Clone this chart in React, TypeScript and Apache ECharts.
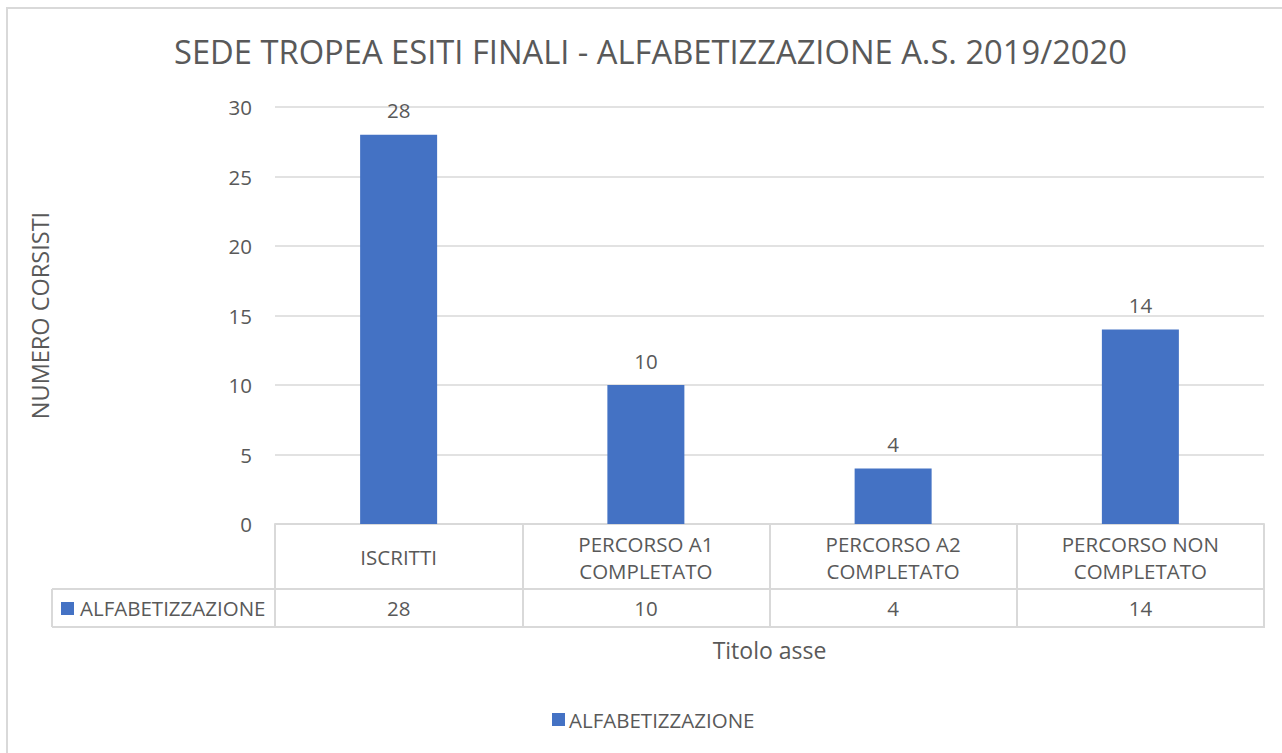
import React, { useEffect, useRef } from "react";
import * as echarts from "echarts";

const categories = ["ISCRITTI", "PERCORSO A1\nCOMPLETATO", "PERCORSO A2\nCOMPLETATO", "PERCORSO NON\nCOMPLETATO"];
const seriesName = "ALFABETIZZAZIONE";
const values = [28, 10, 4, 14];
const titleText = "SEDE TROPEA ESITI FINALI - ALFABETIZZAZIONE A.S. 2019/2020";
const yAxisName = "NUMERO CORSISTI";
const xAxisName = "Titolo asse";

const FONT = "Open Sans";
const TXT = "#595959";
const LINE = "#d9d9d9";
const BLUE = "#4472C4";
const FS = 20.5;

export default function App() {
  const ref = useRef<HTMLDivElement>(null);
  useEffect(() => {
    const chart = echarts.init(ref.current!, null, { renderer: "svg" });
    chart.setOption({
      animation: false,
      backgroundColor: "#fff",
      textStyle: { fontFamily: FONT, color: TXT },
      title: {
        text: titleText,
        left: 169,
        top: 30,
        textStyle: { fontFamily: FONT, fontSize: 32.7, fontWeight: "normal", color: TXT },
      },
      grid: { left: 275, right: 18, top: 107, bottom: 229 },
      legend: {
        bottom: 18,
        left: 547,
        icon: "rect",
        itemWidth: 13,
        itemHeight: 13,
        itemGap: 5,
        textStyle: { fontFamily: FONT, fontSize: FS, color: TXT, padding: [0, 0, 0, -1] },
        data: [seriesName],
      },
      xAxis: [
        {
          type: "category",
          data: categories,
          name: xAxisName,
          nameLocation: "middle",
          nameGap: 126,
          nameTextStyle: { fontFamily: FONT, fontSize: 23, color: TXT, verticalAlign: "middle" },
          axisLine: { lineStyle: { color: LINE, width: 2 } },
          axisTick: { show: true, length: 103, alignWithLabel: false, inside: false, lineStyle: { color: LINE, width: 2 } },
          axisLabel: { interval: 0, fontFamily: FONT, fontSize: FS, color: TXT, lineHeight: 27, verticalAlign: "middle", margin: 33 },
        },
        {
          type: "category",
          position: "bottom",
          offset: 65,
          data: values.map(String),
          axisLine: { lineStyle: { color: LINE, width: 2 } },
          axisTick: { show: false },
          axisLabel: { interval: 0, fontFamily: FONT, fontSize: FS, color: TXT, verticalAlign: "middle", margin: 19 },
        },
      ],
      yAxis: {
        type: "value",
        min: 0,
        max: 30,
        interval: 5,
        name: yAxisName,
        nameLocation: "middle",
        nameGap: 235,
        nameRotate: 90,
        nameTextStyle: { fontFamily: FONT, fontSize: 23.5, color: TXT, verticalAlign: "middle" },
        axisLine: { show: false },
        axisTick: { show: false },
        axisLabel: { fontFamily: FONT, fontSize: FS, color: TXT, margin: 23 },
        splitLine: { lineStyle: { color: LINE, width: 1.5 } },
      },
      series: [
        {
          name: seriesName,
          type: "bar",
          data: values,
          barWidth: 77,
          itemStyle: { color: BLUE },
          label: { show: true, position: "top", distance: 14, fontFamily: FONT, fontSize: FS, color: TXT },
        },
      ],
      graphic: [
        { type: "rect", shape: { x: 7, y: 8, width: 1300, height: 760 }, style: { fill: "none", stroke: LINE, lineWidth: 2 }, silent: true },
        { type: "line", shape: { x1: 52, y1: 589, x2: 275, y2: 589 }, style: { stroke: LINE, lineWidth: 2 } },
        { type: "line", shape: { x1: 52, y1: 627, x2: 1265, y2: 627 }, style: { stroke: LINE, lineWidth: 2 } },
        { type: "line", shape: { x1: 52, y1: 589, x2: 52, y2: 627 }, style: { stroke: LINE, lineWidth: 2 } },
        { type: "rect", shape: { x: 61, y: 602, width: 13, height: 13 }, style: { fill: BLUE } },
        { type: "text", x: 80, y: 608, style: { text: seriesName, fontFamily: FONT, fontSize: FS, fill: TXT, verticalAlign: "middle" } },
      ],
    });
    return () => chart.dispose();
  }, []);
  return <div ref={ref} style={{ position: "absolute", left: 0, top: 0, width: 1282, height: 753 }} />;
}
